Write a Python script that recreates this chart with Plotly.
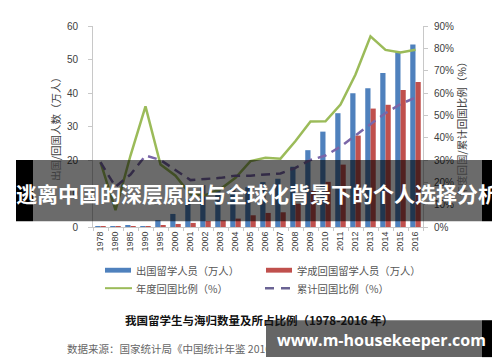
import plotly.graph_objects as go

# ---------------- data ----------------
years = ["1978", "1980", "1985", "1990", "1995", "2000", "2001", "2002", "2003", "2004", "2005",
         "2006", "2007", "2008", "2009", "2010", "2011", "2012", "2013", "2014", "2015", "2016"]
out_students = [0.086, 0.212, 0.485, 0.295, 2.04, 3.90, 8.40, 12.5, 11.73, 11.47, 11.85,
                13.4, 14.4, 17.98, 22.93, 28.47, 33.97, 39.96, 41.39, 45.98, 52.37, 54.45]
returned = [0.025, 0.016, 0.157, 0.159, 0.58, 0.91, 1.22, 1.79, 2.01, 2.51, 3.50,
            4.20, 4.40, 6.93, 10.83, 13.48, 18.62, 27.29, 35.35, 36.48, 40.91, 43.25]
annual_ratio = [0.29, 0.075, 0.32, 0.54, 0.28, 0.23, 0.145, 0.143, 0.17, 0.22, 0.295,
                0.31, 0.306, 0.385, 0.472, 0.473, 0.548, 0.683, 0.854, 0.793, 0.781, 0.794]
cum_ratio = [0.29, 0.18, 0.235, 0.32, 0.30, 0.255, 0.21, 0.215, 0.22, 0.23, 0.23,
             0.235, 0.24, 0.265, 0.30, 0.32, 0.36, 0.41, 0.46, 0.51, 0.55, 0.58]

left_ticks = [0, 10, 20, 30, 40, 50, 60]
right_ticks = [0, 0.1, 0.2, 0.3, 0.4, 0.5, 0.6, 0.7, 0.8, 0.9]

names = ["出国留学人员（万人）", "学成回国留学人员（万人）", "年度回国比例（%）", "累计回国比例（%）"]
left_title = "出国/回国人数（万人）"
right_title = "年度回国/累计回国比例（%）"
chart_title = "我国留学生与海归数量及所占比例（1978-2016 年）"
source_text = "数据来源：国家统计局《中国统计年鉴 2016》"
banner_text = "逃离中国的深层原因与全球化背景下的个人选择分析"
watermark_text = "www.m-housekeeper.com"

BLUE, RED, GREEN, PURPLE = "#4f81bd", "#c0504d", "#9bbb59", "#7a66a8"
CJK = "Noto Sans CJK SC"
LAT = "Liberation Sans, Arial, sans-serif"

# ---------------- layout geometry (pixels) ----------------
W, H = 500, 362
PL, PR, PT, PB = 85, 415, 12, 219


def xp(px):
    return (px - PL) / (PR - PL)


def yp(py):
    return (PB - py) / (PB - PT)


fig = go.Figure()
fig.add_trace(go.Bar(x=years, y=out_students, name=names[0], marker_color=BLUE,
                     marker_line_width=0, yaxis="y"))
fig.add_trace(go.Bar(x=years, y=returned, name=names[1], marker_color=RED,
                     marker_line_width=0, yaxis="y"))
fig.add_trace(go.Scatter(x=years, y=annual_ratio, name=names[2], mode="lines",
                         line=dict(color=GREEN, width=2.5), yaxis="y2"))
fig.add_trace(go.Scatter(x=years, y=cum_ratio, name=names[3], mode="lines",
                         line=dict(color=PURPLE, width=2.5, dash="9px,6px"), yaxis="y2"))

axis_col = "#c8c8c8"
fig.update_layout(
    width=W, height=H,
    margin=dict(l=PL, r=W - PR, t=PT, b=H - PB, pad=0),
    paper_bgcolor="white", plot_bgcolor="white",
    showlegend=False,
    barmode="group", bargap=0.3, bargroupgap=0,
    xaxis=dict(type="category", showline=True, linecolor=axis_col, linewidth=1,
               ticks="outside", ticklen=3, tickcolor=axis_col, tickson="boundaries",
               tickangle=-90, tickfont=dict(family=LAT, size=9, color="#404040"),
               showgrid=False, zeroline=False),
    yaxis=dict(range=[0, 60], tickvals=left_ticks, showline=True, linecolor=axis_col,
               ticks="outside", ticklen=4, tickcolor=axis_col,
               tickfont=dict(family=LAT, size=10, color="#404040"),
               showgrid=False, zeroline=False, ticklabelstandoff=8,
               title=dict(text=left_title, font=dict(family=CJK, size=10.5, color="#404040"),
                          standoff=4)),
    yaxis2=dict(range=[0, 0.9], tickvals=right_ticks, tickformat=".0%", overlaying="y",
                side="right", showline=True, linecolor=axis_col,
                ticks="outside", ticklen=4, tickcolor=axis_col,
                tickfont=dict(family=LAT, size=10, color="#404040"),
                showgrid=False, zeroline=False, ticklabelstandoff=4,
                title=dict(text=right_title, font=dict(family=CJK, size=10.5, color="#404040"),
                           standoff=2)),
)

shapes = []
annotations = []

# ---- custom legend ----
leg_font = dict(family=CJK, size=10.3, color="#555555")
row1, row2 = 263.5, 282
shapes.append(dict(type="rect", xref="paper", yref="paper", x0=xp(97), x1=xp(123),
                   y0=yp(row1 - 2.5), y1=yp(row1 + 2.5), fillcolor=BLUE, line_width=0))
shapes.append(dict(type="rect", xref="paper", yref="paper", x0=xp(258), x1=xp(284),
                   y0=yp(row1 - 2.5), y1=yp(row1 + 2.5), fillcolor=RED, line_width=0))
shapes.append(dict(type="line", xref="paper", yref="paper", x0=xp(97), x1=xp(124),
                   y0=yp(row2), y1=yp(row2), line=dict(color=GREEN, width=2)))
shapes.append(dict(type="line", xref="paper", yref="paper", x0=xp(257), x1=xp(284),
                   y0=yp(row2), y1=yp(row2), line=dict(color="#6a6394", width=2.5, dash="9px,7px")))
for txt, x, y in [(names[0], 126, row1), (names[1], 287, row1),
                  (names[2], 126, row2), (names[3], 287, row2)]:
    annotations.append(dict(text=txt, xref="paper", yref="paper", x=xp(x), y=yp(y),
                            xanchor="left", yanchor="middle", showarrow=False, font=leg_font))

# ---- title & source ----
annotations.append(dict(text="<b>" + chart_title + "</b>", xref="paper", yref="paper",
                        x=xp(251), y=yp(315), xanchor="center", yanchor="middle",
                        showarrow=False, font=dict(family=CJK, size=11.5, color="#111111")))
annotations.append(dict(text=source_text, xref="paper", yref="paper",
                        x=xp(57), y=yp(344), xanchor="left", yanchor="middle",
                        showarrow=False, font=dict(family=CJK, size=10.5, color="#666666")))

# ---- overlay banner ----
shapes.append(dict(type="rect", xref="paper", yref="paper", layer="above",
                   x0=xp(8), x1=xp(25), y0=yp(213), y1=yp(150), fillcolor="black", line_width=0))
shapes.append(dict(type="rect", xref="paper", yref="paper", layer="above",
                   x0=xp(25), x1=xp(474), y0=yp(213), y1=yp(150),
                   fillcolor="rgba(0,0,0,0.58)", line_width=0))
shapes.append(dict(type="rect", xref="paper", yref="paper", layer="above",
                   x0=xp(474), x1=xp(500), y0=yp(213), y1=yp(150), fillcolor="black", line_width=0))
annotations.append(dict(text="<b>" + banner_text + "</b>", xref="paper", yref="paper",
                        x=xp(249), y=yp(184), xanchor="center", yanchor="middle",
                        showarrow=False, font=dict(family=CJK, size=21, color="white")))

# ---- watermark ----
shapes.append(dict(type="rect", xref="paper", yref="paper", layer="above",
                   x0=xp(258), x1=xp(474), y0=yp(353), y1=yp(315),
                   fillcolor="rgba(0,0,0,0.6)", line_width=0))
shapes.append(dict(type="rect", xref="paper", yref="paper", layer="above",
                   x0=xp(474), x1=xp(491), y0=yp(353), y1=yp(315), fillcolor="black", line_width=0))
annotations.append(dict(text="<b>" + watermark_text + "</b>", xref="paper", yref="paper",
                        x=xp(373), y=yp(335), xanchor="center", yanchor="middle",
                        showarrow=False, font=dict(family="Open Sans, sans-serif", size=16, color="white")))

fig.update_layout(shapes=shapes, annotations=annotations)
fig.write_html("out.html")
